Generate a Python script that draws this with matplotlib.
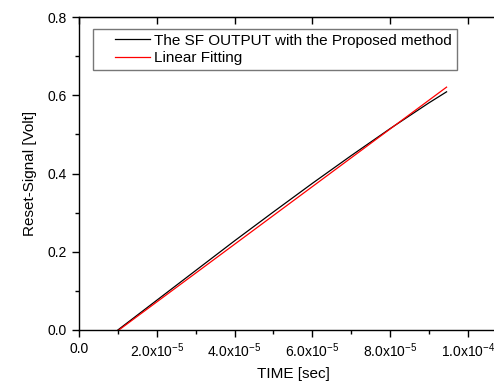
import matplotlib
matplotlib.use("Agg")
import matplotlib.pyplot as plt
from matplotlib.ticker import MultipleLocator, FuncFormatter
from matplotlib.legend_handler import HandlerLine2D

plt.rcParams['font.family'] = ['Liberation Sans', 'DejaVu Sans']
plt.rcParams['mathtext.fontset'] = 'custom'
plt.rcParams['mathtext.rm'] = 'Liberation Sans'

# tiempo (s) y señales
tiempo = [1.0e-5, 2.0e-5, 3.0e-5, 4.0e-5, 5.0e-5, 6.0e-5, 7.0e-5, 8.0e-5, 9.0e-5, 9.45e-5]
sf_output = [0.0, 0.076, 0.152, 0.228, 0.302, 0.375, 0.446, 0.515, 0.581, 0.609]
ajuste_t = [1.0e-5, 9.45e-5]
ajuste = [-0.002, 0.621]

fig = plt.figure(figsize=(4.94, 3.81), dpi=100)
ax = fig.add_axes([0.16, 0.134, 0.866, 0.821])

l1, = ax.plot(tiempo, sf_output, color='black', lw=0.9, label='The SF OUTPUT with the Proposed method')
l2, = ax.plot(ajuste_t, ajuste, color='red', lw=0.9, label='Linear Fitting')

ax.set_xlim(0, 1.1e-4)
ax.set_ylim(0, 0.8)

ax.xaxis.set_major_locator(MultipleLocator(2e-5))
ax.xaxis.set_minor_locator(MultipleLocator(1e-5))
ax.yaxis.set_major_locator(MultipleLocator(0.2))
ax.yaxis.set_minor_locator(MultipleLocator(0.1))


def fmt_x(v, pos):
    if abs(v) < 1e-12:
        return '0.0'
    exp = int(f'{v:.1e}'.split('e')[1])
    mant = v / 10**exp
    return r'$\mathregular{%.1fx10^{%d}}$' % (mant, exp)


ax.xaxis.set_major_formatter(FuncFormatter(fmt_x))
ax.yaxis.set_major_formatter(FuncFormatter(lambda v, p: f'{v:.1f}'))

ax.spines['right'].set_visible(False)
for s in ['left', 'bottom', 'top']:
    ax.spines[s].set_linewidth(1.0)

ax.tick_params(which='both', direction='out', labelsize=10, width=1.0)
ax.tick_params(which='major', length=5)
ax.tick_params(which='minor', length=3)

# marcas del borde superior hacia adentro
arriba = ax.secondary_xaxis('top')
arriba.xaxis.set_major_locator(MultipleLocator(2e-5))
arriba.tick_params(direction='in', length=5, width=1.0, labeltop=False)

ax.set_xlabel('TIME [sec]', fontsize=11, labelpad=5)
ax.set_ylabel('Reset-Signal [Volt]', fontsize=11, labelpad=8)

leg = ax.legend(loc='upper left', bbox_to_anchor=(0.033, 0.962), fontsize=11,
                frameon=True, fancybox=False, edgecolor='#555555', borderaxespad=0,
                handlelength=3.4, borderpad=0.3, labelspacing=0.25, handletextpad=0.3,
                handler_map={l1: HandlerLine2D(xpad=1.1), l2: HandlerLine2D(xpad=1.1)})
leg.get_frame().set_linewidth(1.0)

fig.savefig('out.png', dpi=100)
